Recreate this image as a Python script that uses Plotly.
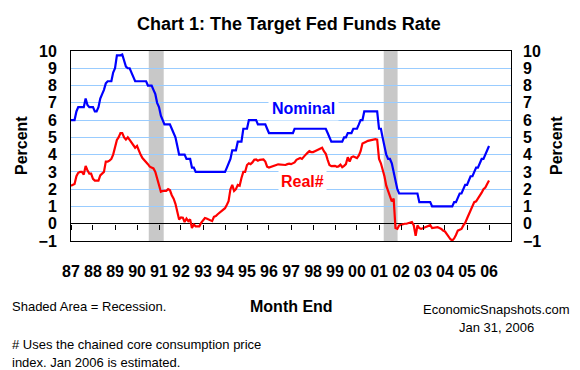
import pandas as pd
import plotly.graph_objects as go

# ---------------- data (monthly, Jan 1987 .. Jan 2006) ----------------
start_month = "1987-01-01"

nominal = [
    # 1987
    6.0, 6.0, 6.0, 6.5, 6.75, 6.75, 6.75, 6.75, 7.25, 6.875, 6.75, 6.75,
    # 1988
    6.75, 6.5, 6.5, 6.75, 7.25, 7.5, 7.75, 8.125, 8.25, 8.25, 8.25, 8.75,
    # 1989
    9.0, 9.75, 9.75, 9.75, 9.8, 9.5, 9.1, 9.0, 9.0, 8.75, 8.5, 8.25,
    # 1990
    8.25, 8.25, 8.25, 8.25, 8.25, 8.25, 8.0, 8.0, 8.0, 7.75, 7.5, 7.0,
    # 1991
    6.75, 6.25, 6.0, 5.75, 5.75, 5.75, 5.75, 5.5, 5.25, 5.0, 4.5, 4.0,
    # 1992
    4.0, 4.0, 4.0, 3.75, 3.75, 3.75, 3.25, 3.25, 3.0, 3.0, 3.0, 3.0,
    # 1993
    3.0, 3.0, 3.0, 3.0, 3.0, 3.0, 3.0, 3.0, 3.0, 3.0, 3.0, 3.0,
    # 1994
    3.0, 3.25, 3.5, 3.75, 4.25, 4.25, 4.25, 4.75, 4.75, 4.75, 5.5, 5.5,
    # 1995
    5.5, 6.0, 6.0, 6.0, 6.0, 6.0, 5.75, 5.75, 5.75, 5.75, 5.75, 5.5,
    # 1996
    5.25, 5.25, 5.25, 5.25, 5.25, 5.25, 5.25, 5.25, 5.25, 5.25, 5.25, 5.25,
    # 1997
    5.25, 5.25, 5.5, 5.5, 5.5, 5.5, 5.5, 5.5, 5.5, 5.5, 5.5, 5.5,
    # 1998
    5.5, 5.5, 5.5, 5.5, 5.5, 5.5, 5.5, 5.5, 5.25, 5.0, 4.75, 4.75,
    # 1999
    4.75, 4.75, 4.75, 4.75, 4.75, 5.0, 5.0, 5.25, 5.25, 5.25, 5.5, 5.5,
    # 2000
    5.5, 5.75, 6.0, 6.0, 6.5, 6.5, 6.5, 6.5, 6.5, 6.5, 6.5, 6.5,
    # 2001
    5.5, 5.5, 5.0, 4.5, 4.0, 3.75, 3.75, 3.5, 3.0, 2.5, 2.0, 1.75,
    # 2002
    1.75, 1.75, 1.75, 1.75, 1.75, 1.75, 1.75, 1.75, 1.75, 1.75, 1.25, 1.25,
    # 2003
    1.25, 1.25, 1.25, 1.25, 1.25, 1.0, 1.0, 1.0, 1.0, 1.0, 1.0, 1.0,
    # 2004
    1.0, 1.0, 1.0, 1.0, 1.0, 1.25, 1.25, 1.5, 1.75, 1.75, 2.0, 2.25,
    # 2005
    2.25, 2.5, 2.75, 2.75, 3.0, 3.25, 3.25, 3.5, 3.75, 3.75, 4.0, 4.25,
    # 2006
    4.5,
]

real = [
    # 1987
    2.2, 2.25, 2.3, 2.75, 2.95, 3.0, 3.0, 2.85, 3.35, 3.1, 2.9, 2.9,
    # 1988
    2.6, 2.5, 2.5, 2.5, 2.8, 2.9, 3.0, 3.6, 3.6, 3.65, 3.75, 4.0,
    # 1989
    4.4, 4.85, 5.0, 5.25, 5.25, 5.0, 4.87, 5.0, 4.85, 4.7, 4.6, 4.4,
    # 1990
    4.5, 4.2, 4.0, 3.8, 3.7, 3.6, 3.45, 3.3, 3.25, 3.2, 3.0, 2.65,
    # 1991
    2.25, 1.85, 1.9, 1.9, 1.9, 2.0, 1.95, 1.65, 1.45, 1.15, 0.7, 0.25,
    # 1992
    0.37, 0.35, 0.1, 0.3, 0.15, 0.25, -0.25, -0.05, -0.15, -0.15, -0.15, 0.05,
    # 1993
    0.2, 0.33, 0.3, 0.25, 0.2, 0.15, 0.4, 0.45, 0.55, 0.65, 0.75, 0.8,
    # 1994
    0.9, 1.1, 1.3, 2.0, 2.25, 1.9, 2.0, 2.25, 2.2, 2.65, 3.0, 3.0,
    # 1995
    3.4, 3.5, 3.45, 3.55, 3.7, 3.72, 3.65, 3.7, 3.7, 3.72, 3.6, 3.3,
    # 1996
    3.25, 3.28, 3.3, 3.35, 3.4, 3.44, 3.44, 3.42, 3.42, 3.4, 3.45, 3.48,
    # 1997
    3.45, 3.5, 3.55, 3.7, 3.75, 3.8, 3.75, 3.9, 4.0, 4.1, 4.2, 4.15,
    # 1998
    4.15, 4.2, 4.25, 4.3, 4.35, 4.4, 4.2, 4.05, 3.7, 3.4, 3.33, 3.33,
    # 1999
    3.35, 3.3, 3.32, 3.42, 3.27, 3.35, 3.45, 3.85, 3.6, 3.85, 3.9, 3.85,
    # 2000
    3.8, 3.95, 4.2, 4.65, 4.72, 4.75, 4.8, 4.82, 4.85, 4.87, 4.9, 4.87,
    # 2001
    3.75, 3.5, 3.2, 2.75, 2.2, 1.95, 1.6, 1.3, 1.45, -0.25, -0.3, -0.1,
    # 2002
    -0.05, 0.0, 0.0, 0.0, 0.02, 0.05, 0.1, -0.1, -0.7, -0.1, -0.25, -0.3,
    # 2003
    -0.25, -0.2, -0.2, -0.12, -0.08, -0.25, -0.22, -0.2, -0.2, -0.25, -0.3, -0.4,
    # 2004
    -0.45, -0.6, -0.75, -0.9, -0.97, -0.85, -0.65, -0.4, -0.35, -0.3, -0.1, 0.05,
    # 2005
    0.3, 0.55, 0.8, 1.05, 1.25, 1.3, 1.45, 1.6, 1.8, 2.0, 2.1, 2.3,
    # 2006
    2.5,
]

recession_start = ["1990-07-15", "2001-03-20"]
recession_end = ["1991-03-20", "2001-11-05"]

year_ticks = [f"{y}-01-01" for y in range(1987, 2007)]
year_labels = ["87", "88", "89", "90", "91", "92", "93", "94", "95", "96",
               "97", "98", "99", "00", "01", "02", "03", "04", "05", "06"]
y_ticks = list(range(-1, 11))
x_range = ["1987-01-01", "2007-01-01"]
y_range = [-1, 10]

dates = pd.date_range(start_month, periods=len(nominal), freq="MS")

# ---------------- figure ----------------
FONT = "Liberation Sans, Arial, sans-serif"
BLUE = "#0000FF"
RED = "#FF0000"
GRID = "#99CCFF"

fig = go.Figure()

fig.add_trace(go.Scatter(x=dates, y=nominal, mode="lines",
                         line=dict(color=BLUE, width=2.2),
                         hoverinfo="skip", showlegend=False))
fig.add_trace(go.Scatter(x=dates, y=real, mode="lines",
                         line=dict(color=RED, width=2.2),
                         hoverinfo="skip", showlegend=False))
# invisible trace so the mirrored right axis and the zero-line tick axis render
fig.add_trace(go.Scatter(x=dates, y=nominal, mode="lines", xaxis="x2", yaxis="y2",
                         line=dict(width=0, color="rgba(0,0,0,0)"),
                         hoverinfo="skip", showlegend=False))

for s, e in zip(recession_start, recession_end):
    fig.add_shape(type="rect", xref="x", yref="paper", x0=s, x1=e, y0=0, y1=1,
                  fillcolor="#C8C8C8", line=dict(width=0), layer="between")

tickfont = dict(family=FONT, size=16, color="black", weight="bold")

fig.update_layout(
    width=580, height=370,
    margin=dict(l=71, r=69, t=51, b=129),
    paper_bgcolor="white", plot_bgcolor="white",
    font=dict(family=FONT, color="black"),
    xaxis=dict(type="date", range=x_range, tickvals=year_ticks, ticktext=year_labels,
               showline=True, linecolor="black", linewidth=1, mirror=True,
               ticks="", showgrid=False, zeroline=False, tickfont=tickfont,
               ticklabelstandoff=16, fixedrange=True),
    xaxis2=dict(type="date", range=x_range, tickvals=year_ticks, overlaying="x",
                anchor="free", position=1 / 11, side="bottom",
                ticks="outside", ticklen=5, tickwidth=1, tickcolor="black",
                showticklabels=False, showline=False, showgrid=False, zeroline=False),
    yaxis=dict(range=y_range, tickvals=y_ticks, showgrid=True, gridcolor=GRID,
               gridwidth=1, zeroline=True, zerolinecolor="black", zerolinewidth=1,
               showline=True, linecolor="black", linewidth=1, mirror=True,
               ticks="", tickfont=tickfont, ticklabelstandoff=10),
    yaxis2=dict(range=y_range, tickvals=y_ticks, overlaying="y", side="right",
                showgrid=False, zeroline=False, showline=False, ticks="",
                tickfont=tickfont, ticklabelstandoff=11),
)

def px_x(px):
    return (px - 71) / 440.0

def px_y(py):
    return (241 - py) / 190.0

ann = []
ann.append(dict(text="Chart 1: The Target Fed Funds Rate", xref="paper", yref="paper",
                x=px_x(289), y=px_y(23.5), xanchor="center", yanchor="middle",
                showarrow=False, font=dict(family=FONT, size=18, weight="bold")))
ann.append(dict(text="Percent", xref="paper", yref="paper", x=px_x(21), y=px_y(146),
                xanchor="center", yanchor="middle", textangle=-90, showarrow=False,
                font=dict(family=FONT, size=16, weight="bold")))
ann.append(dict(text="Percent", xref="paper", yref="paper", x=px_x(556), y=px_y(146),
                xanchor="center", yanchor="middle", textangle=-90, showarrow=False,
                font=dict(family=FONT, size=16, weight="bold")))
ann.append(dict(text="Nominal", xref="x", yref="y", x="1997-08-01", y=6.7,
                xanchor="center", yanchor="middle", showarrow=False,
                bgcolor="white", borderpad=3,
                font=dict(family=FONT, size=16, weight="bold", color=BLUE)))
ann.append(dict(text="Real#", xref="x", yref="y", x="1997-07-10", y=2.45,
                xanchor="center", yanchor="middle", showarrow=False,
                bgcolor="white", borderpad=2,
                font=dict(family=FONT, size=16, weight="bold", color=RED)))
ann.append(dict(text="Shaded Area = Recession.", xref="paper", yref="paper",
                x=px_x(10), y=px_y(306), xanchor="left", yanchor="middle",
                showarrow=False, font=dict(family=FONT, size=13)))
ann.append(dict(text="Month End", xref="paper", yref="paper",
                x=px_x(291.5), y=px_y(306), xanchor="center", yanchor="middle",
                showarrow=False, font=dict(family=FONT, size=16, weight="bold")))
ann.append(dict(text="EconomicSnapshots.com", xref="paper", yref="paper",
                x=px_x(496), y=px_y(309), xanchor="center", yanchor="middle",
                showarrow=False, font=dict(family=FONT, size=13)))
ann.append(dict(text="Jan 31, 2006", xref="paper", yref="paper",
                x=px_x(496), y=px_y(327), xanchor="center", yanchor="middle",
                showarrow=False, font=dict(family=FONT, size=13)))
ann.append(dict(text="# Uses the chained core consumption price", xref="paper",
                yref="paper", x=px_x(10), y=px_y(344.5), xanchor="left",
                yanchor="middle", showarrow=False, font=dict(family=FONT, size=13)))
ann.append(dict(text="index. Jan 2006 is estimated.", xref="paper",
                yref="paper", x=px_x(10), y=px_y(362.7), xanchor="left",
                yanchor="middle", showarrow=False, font=dict(family=FONT, size=13)))
fig.update_layout(annotations=ann)

fig.write_html("out.html", config={"displayModeBar": False},
               post_script="document.body.style.margin='0px';"
                           "document.body.style.padding='0px';"
                           "document.documentElement.style.overflow='hidden';")
